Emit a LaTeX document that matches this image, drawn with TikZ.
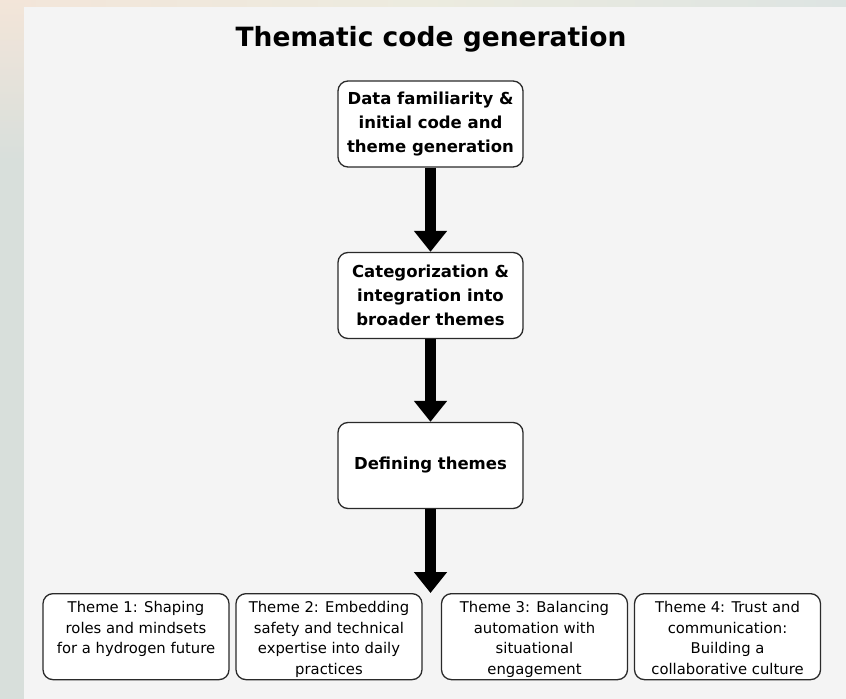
\documentclass[tikz,border=0pt]{standalone}
\usepackage{fontspec}
\setmainfont{DejaVu Sans}
\usetikzlibrary{arrows.meta}
\definecolor{panel}{HTML}{F4F4F4}
\definecolor{bgA}{HTML}{D8DFDB}
\definecolor{bgPeach}{HTML}{F3E5D9}
\definecolor{bgMid}{HTML}{ECEBDF}
\definecolor{bgRight}{HTML}{DDE4E2}
\definecolor{edge}{HTML}{2A2A2A}
\tikzset{
  stepbox/.style={draw=edge, fill=white, line width=1.3bp, rounded corners=10bp,
    minimum width=185bp, minimum height=86bp, align=center, inner sep=4bp,
    font=\bfseries\fontsize{16.5bp}{24bp}\selectfont},
  themebox/.style={draw=edge, fill=white, line width=1.3bp, rounded corners=10bp,
    inner sep=8bp, font=\fontsize{14.8bp}{20.5bp}\selectfont},
  flow/.style={line width=10.5bp, draw=black, -{Triangle[width=32bp,length=21bp]}},
  titlefont/.style={font=\bfseries\fontsize{26.5bp}{30bp}\selectfont}
}
\newcommand{\themetext}[1]{\parbox[t][70bp][t]{170bp}{\centering #1}}
\begin{document}
\begin{tikzpicture}[x=1bp,y=-1bp]
\useasboundingbox (0,0) rectangle (846,699);
% background
\fill[bgA] (0,0) rectangle (846,699);
\shade[left color=bgPeach, right color=bgRight, middle color=bgMid] (0,0) rectangle (846,7);
\shade[top color=bgPeach, bottom color=bgA] (0,0) rectangle (24,160);
\fill[panel] (24,7) rectangle (846,699);
% title
\node[titlefont] (title) at (431,39) {Thematic code generation};
% main steps
\node[stepbox] (s1) at (430.5,124) {Data familiarity \&\\initial code and\\theme generation};
\node[stepbox] (s2) at (430.5,295.5) {Categorization \&\\integration into\\broader themes};
\node[stepbox] (s3) at (430.5,465.5) {Defining themes};
\coordinate (tip) at (430.5,593);
\draw[flow] (s1.south) -- (s2.north);
\draw[flow] (s2.south) -- (s3.north);
\draw[flow] (s3.south) -- (tip);
% themes
\node[themebox, anchor=north] (t1) at (136,593) {\themetext{Theme 1: Shaping\\roles and mindsets\\for a hydrogen future}};
\node[themebox, anchor=north] (t2) at (329,593) {\themetext{Theme 2: Embedding\\safety and technical\\expertise into daily\\practices}};
\node[themebox, anchor=north] (t3) at (534.5,593) {\themetext{Theme 3: Balancing\\automation with\\situational\\engagement}};
\node[themebox, anchor=north] (t4) at (727.5,593) {\themetext{Theme 4: Trust and\\communication:\\Building a\\collaborative culture}};
\end{tikzpicture}
\end{document}
